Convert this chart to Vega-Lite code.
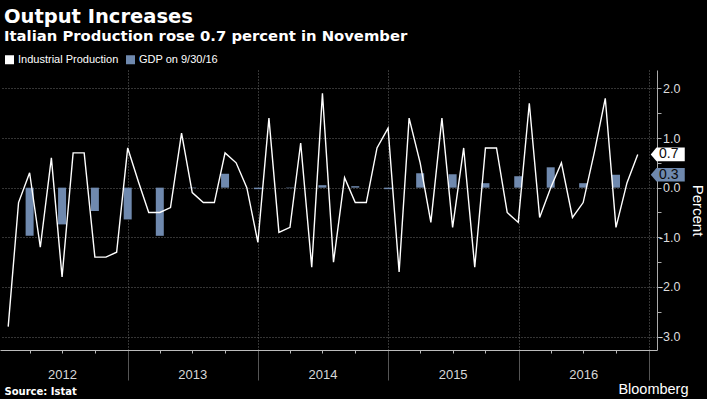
{
  "$schema": "https://vega.github.io/schema/vega-lite/v6.json",
  "autosize": {"type": "none"},
  "width": 657,
  "height": 280,
  "padding": {"left": 0, "top": 70, "right": 50, "bottom": 49},
  "background": "#000000",
  "config": {"view": {"stroke": null}},
  "title": {
    "text": "Output Increases",
    "subtitle": "Italian Production rose 0.7 percent in November",
    "anchor": "start",
    "frame": "group",
    "orient": "top",
    "offset": 9,
    "dx": 4,
    "font": "DejaVu Sans",
    "fontSize": 19.5,
    "fontWeight": "bold",
    "color": "#ffffff",
    "subtitleFont": "DejaVu Sans",
    "subtitleFontSize": 14.8,
    "subtitleFontWeight": "bold",
    "subtitleColor": "#ffffff",
    "subtitlePadding": 2
  },
  "data": {
    "format": {"parse": {"date": "date"}},
    "values": [
      {"date": "2012-01-31", "series": "Industrial Production", "value": -2.8},
      {"date": "2012-02-29", "series": "Industrial Production", "value": -0.3},
      {"date": "2012-03-31", "series": "Industrial Production", "value": 0.3},
      {"date": "2012-04-30", "series": "Industrial Production", "value": -1.2},
      {"date": "2012-05-31", "series": "Industrial Production", "value": 0.6},
      {"date": "2012-06-30", "series": "Industrial Production", "value": -1.8},
      {"date": "2012-07-31", "series": "Industrial Production", "value": 0.7},
      {"date": "2012-08-31", "series": "Industrial Production", "value": 0.7},
      {"date": "2012-09-30", "series": "Industrial Production", "value": -1.4},
      {"date": "2012-10-31", "series": "Industrial Production", "value": -1.4},
      {"date": "2012-11-30", "series": "Industrial Production", "value": -1.3},
      {"date": "2012-12-31", "series": "Industrial Production", "value": 0.8},
      {"date": "2013-01-31", "series": "Industrial Production", "value": 0.1},
      {"date": "2013-02-28", "series": "Industrial Production", "value": -0.5},
      {"date": "2013-03-31", "series": "Industrial Production", "value": -0.5},
      {"date": "2013-04-30", "series": "Industrial Production", "value": -0.4},
      {"date": "2013-05-31", "series": "Industrial Production", "value": 1.1},
      {"date": "2013-06-30", "series": "Industrial Production", "value": -0.1},
      {"date": "2013-07-31", "series": "Industrial Production", "value": -0.3},
      {"date": "2013-08-31", "series": "Industrial Production", "value": -0.3},
      {"date": "2013-09-30", "series": "Industrial Production", "value": 0.7},
      {"date": "2013-10-31", "series": "Industrial Production", "value": 0.5},
      {"date": "2013-11-30", "series": "Industrial Production", "value": 0.0},
      {"date": "2013-12-31", "series": "Industrial Production", "value": -1.1},
      {"date": "2014-01-31", "series": "Industrial Production", "value": 1.4},
      {"date": "2014-02-28", "series": "Industrial Production", "value": -0.9},
      {"date": "2014-03-31", "series": "Industrial Production", "value": -0.8},
      {"date": "2014-04-30", "series": "Industrial Production", "value": 0.9},
      {"date": "2014-05-31", "series": "Industrial Production", "value": -1.6},
      {"date": "2014-06-30", "series": "Industrial Production", "value": 1.9},
      {"date": "2014-07-31", "series": "Industrial Production", "value": -1.5},
      {"date": "2014-08-31", "series": "Industrial Production", "value": 0.2},
      {"date": "2014-09-30", "series": "Industrial Production", "value": -0.3},
      {"date": "2014-10-31", "series": "Industrial Production", "value": -0.3},
      {"date": "2014-11-30", "series": "Industrial Production", "value": 0.8},
      {"date": "2014-12-31", "series": "Industrial Production", "value": 1.2},
      {"date": "2015-01-31", "series": "Industrial Production", "value": -1.7},
      {"date": "2015-02-28", "series": "Industrial Production", "value": 1.4},
      {"date": "2015-03-31", "series": "Industrial Production", "value": 0.5},
      {"date": "2015-04-30", "series": "Industrial Production", "value": -0.7},
      {"date": "2015-05-31", "series": "Industrial Production", "value": 1.4},
      {"date": "2015-06-30", "series": "Industrial Production", "value": -0.8},
      {"date": "2015-07-31", "series": "Industrial Production", "value": 0.8},
      {"date": "2015-08-31", "series": "Industrial Production", "value": -1.6},
      {"date": "2015-09-30", "series": "Industrial Production", "value": 0.8},
      {"date": "2015-10-31", "series": "Industrial Production", "value": 0.8},
      {"date": "2015-11-30", "series": "Industrial Production", "value": -0.5},
      {"date": "2015-12-31", "series": "Industrial Production", "value": -0.7},
      {"date": "2016-01-31", "series": "Industrial Production", "value": 1.7},
      {"date": "2016-02-29", "series": "Industrial Production", "value": -0.6},
      {"date": "2016-03-31", "series": "Industrial Production", "value": 0.0},
      {"date": "2016-04-30", "series": "Industrial Production", "value": 0.5},
      {"date": "2016-05-31", "series": "Industrial Production", "value": -0.6},
      {"date": "2016-06-30", "series": "Industrial Production", "value": -0.3},
      {"date": "2016-07-31", "series": "Industrial Production", "value": 0.7},
      {"date": "2016-08-31", "series": "Industrial Production", "value": 1.8},
      {"date": "2016-09-30", "series": "Industrial Production", "value": -0.8},
      {"date": "2016-10-31", "series": "Industrial Production", "value": 0.1},
      {"date": "2016-11-30", "series": "Industrial Production", "value": 0.67},
      {"date": "2012-03-31", "series": "GDP on 9/30/16", "value": -0.97},
      {"date": "2012-06-30", "series": "GDP on 9/30/16", "value": -0.74},
      {"date": "2012-09-30", "series": "GDP on 9/30/16", "value": -0.47},
      {"date": "2012-12-31", "series": "GDP on 9/30/16", "value": -0.64},
      {"date": "2013-03-31", "series": "GDP on 9/30/16", "value": -0.97},
      {"date": "2013-06-30", "series": "GDP on 9/30/16", "value": -0.01},
      {"date": "2013-09-30", "series": "GDP on 9/30/16", "value": 0.28},
      {"date": "2013-12-31", "series": "GDP on 9/30/16", "value": -0.03},
      {"date": "2014-03-31", "series": "GDP on 9/30/16", "value": -0.01},
      {"date": "2014-06-30", "series": "GDP on 9/30/16", "value": 0.05},
      {"date": "2014-09-30", "series": "GDP on 9/30/16", "value": 0.03},
      {"date": "2014-12-31", "series": "GDP on 9/30/16", "value": -0.03},
      {"date": "2015-03-31", "series": "GDP on 9/30/16", "value": 0.29},
      {"date": "2015-06-30", "series": "GDP on 9/30/16", "value": 0.27},
      {"date": "2015-09-30", "series": "GDP on 9/30/16", "value": 0.09},
      {"date": "2015-12-31", "series": "GDP on 9/30/16", "value": 0.23},
      {"date": "2016-03-31", "series": "GDP on 9/30/16", "value": 0.41},
      {"date": "2016-06-30", "series": "GDP on 9/30/16", "value": 0.09},
      {"date": "2016-09-30", "series": "GDP on 9/30/16", "value": 0.26}
    ]
  },
  "encoding": {
    "y": {
      "field": "value",
      "type": "quantitative",
      "scale": {"domain": [-3.27, 2.37], "nice": false, "zero": false},
      "axis": {
        "orient": "right",
        "values": [-3, -2.5, -2, -1.5, -1, -0.5, 0, 0.5, 1, 1.5, 2],
        "labelExpr": "datum.value % 1 == 0 ? (datum.value < 0 ? '-' : '') + format(abs(datum.value), '.1f') : ''",
        "labelAlign": "right",
        "labelPadding": 19,
        "labelFont": "Liberation Sans",
        "labelFontSize": 12.5,
        "labelColor": "#dddddd",
        "labelOverlap": false,
        "labelFlush": false,
        "tickSize": 4,
        "tickColor": "#aaaaaa",
        "domainColor": "#aaaaaa",
        "grid": true,
        "gridColor": "#6a6a6a",
        "gridDash": [1, 2],
        "gridOpacity": {"condition": {"test": "datum.value % 1 != 0", "value": 0}, "value": 1},
        "title": "Percent",
        "titleX": 40,
        "titleY": 140,
        "titleAngle": 90,
        "titleAlign": "center",
        "titleBaseline": "middle",
        "titleFont": "Liberation Sans",
        "titleFontSize": 15,
        "titleFontWeight": "normal",
        "titleColor": "#ffffff"
      }
    }
  },
  "resolve": {"axis": {"x": "independent"}},
  "layer": [
    {
      "transform": [{"filter": "datum.series == 'GDP on 9/30/16'"}],
      "mark": {"type": "bar", "size": 8},
      "encoding": {
        "x": {
          "field": "date",
          "type": "temporal",
          "scale": {"type": "utc", "domain": [{"year": 2012, "month": 1, "date": 22, "utc": true}, {"year": 2017, "month": 1, "date": 9, "utc": true}]},
          "axis": {
            "orient": "bottom",
            "values": [
              {"year": 2013, "month": 1, "date": 1, "utc": true},
              {"year": 2014, "month": 1, "date": 1, "utc": true},
              {"year": 2015, "month": 1, "date": 1, "utc": true},
              {"year": 2016, "month": 1, "date": 1, "utc": true},
              {"year": 2017, "month": 1, "date": 1, "utc": true}
            ],
            "domain": false,
            "labels": false,
            "tickSize": 30,
            "tickColor": "#555555",
            "grid": true,
            "gridColor": "#6a6a6a",
            "gridDash": [1, 2],
            "title": "Bloomberg",
            "titleX": 688,
            "titleY": 43,
            "titleAlign": "right",
            "titleAnchor": null,
            "titleBaseline": "alphabetic",
            "titleFont": "Liberation Sans",
            "titleFontSize": 14.5,
            "titleFontWeight": 500,
            "titleColor": "#ffffff"
          }
        },
        "color": {
          "field": "series",
          "type": "nominal",
          "scale": {"domain": ["Industrial Production", "GDP on 9/30/16"], "range": ["#ffffff", "#6f89ae"]},
          "legend": {
            "orient": "none",
            "legendX": 4,
            "legendY": -16,
            "direction": "horizontal",
            "title": null,
            "symbolType": "square",
            "symbolSize": 81,
            "symbolStrokeWidth": 0,
            "symbolOpacity": 1,
            "labelFont": "Liberation Sans",
            "labelFontSize": 11,
            "labelColor": "#ffffff",
            "labelOffset": 3,
            "columnPadding": 6,
            "padding": 0
          }
        }
      }
    },
    {
      "transform": [{"filter": "datum.series == 'Industrial Production'"}],
      "mark": {"type": "line", "strokeWidth": 1.4},
      "encoding": {
        "x": {
          "field": "date",
          "type": "temporal",
          "axis": {
            "orient": "bottom",
            "values": [
              {"year": 2012, "month": 3, "date": 31, "utc": true},
              {"year": 2012, "month": 6, "date": 30, "utc": true},
              {"year": 2012, "month": 9, "date": 30, "utc": true},
              {"year": 2013, "month": 3, "date": 31, "utc": true},
              {"year": 2013, "month": 6, "date": 30, "utc": true},
              {"year": 2013, "month": 9, "date": 30, "utc": true},
              {"year": 2014, "month": 3, "date": 31, "utc": true},
              {"year": 2014, "month": 6, "date": 30, "utc": true},
              {"year": 2014, "month": 9, "date": 30, "utc": true},
              {"year": 2015, "month": 3, "date": 31, "utc": true},
              {"year": 2015, "month": 6, "date": 30, "utc": true},
              {"year": 2015, "month": 9, "date": 30, "utc": true},
              {"year": 2016, "month": 3, "date": 31, "utc": true},
              {"year": 2016, "month": 6, "date": 30, "utc": true},
              {"year": 2016, "month": 9, "date": 30, "utc": true}
            ],
            "labelExpr": "utcmonth(datum.value) == 5 ? utcFormat(datum.value, '%Y') : ''",
            "labelAngle": 0,
            "labelOverlap": false,
            "labelFlush": false,
            "labelPadding": 15,
            "labelFont": "Liberation Sans",
            "labelFontSize": 13,
            "labelColor": "#d8d8d8",
            "tickSize": 3,
            "tickColor": "#bbbbbb",
            "domainColor": "#bbbbbb",
            "grid": false,
            "title": "Source: Istat",
            "titleX": 4,
            "titleY": 44,
            "titleAlign": "left",
            "titleAnchor": null,
            "titleBaseline": "alphabetic",
            "titleFont": "DejaVu Sans",
            "titleFontSize": 10,
            "titleFontWeight": "bold",
            "titleColor": "#ffffff"
          }
        },
        "color": {"field": "series", "type": "nominal"}
      }
    },
    {
      "transform": [
        {"joinaggregate": [{"op": "max", "field": "date", "as": "tEnd"}]},
        {"joinaggregate": [{"op": "max", "field": "date", "as": "tLast"}], "groupby": ["series"]},
        {"filter": "time(datum.date) == time(datum.tLast)"}
      ],
      "encoding": {
        "x": {"field": "tEnd", "type": "temporal", "axis": null}
      },
      "layer": [
        {
          "mark": {"type": "point", "shape": "M-1,0L-0.66,-0.4L1,-0.4L1,0.4L-0.66,0.4Z", "filled": true, "opacity": 1, "strokeWidth": 0, "size": 1156, "xOffset": 30},
          "encoding": {"color": {"field": "series", "type": "nominal", "legend": null}}
        },
        {
          "mark": {"type": "text", "xOffset": 31, "align": "center", "baseline": "middle", "font": "Liberation Sans", "fontSize": 14, "color": "#0a0a0a"},
          "encoding": {"text": {"field": "value", "type": "quantitative", "format": ".1f"}}
        }
      ]
    }
  ]
}
